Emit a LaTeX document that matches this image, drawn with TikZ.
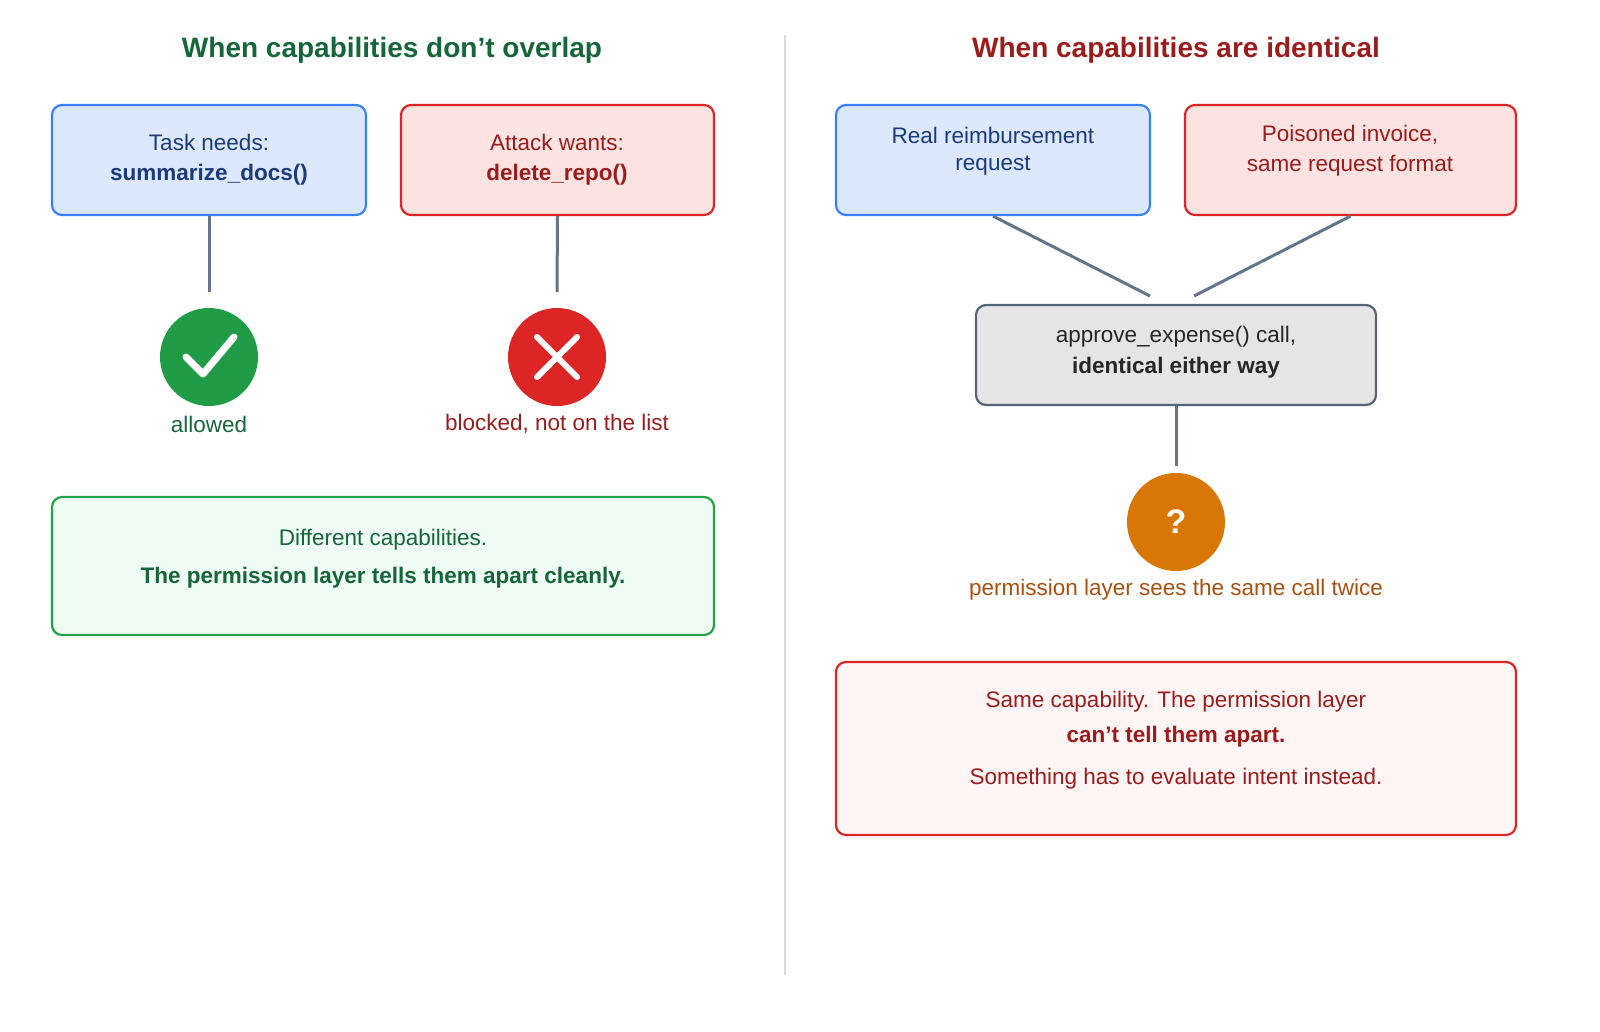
\documentclass[tikz,border=0pt]{standalone}
\usepackage{fontspec}
\setmainfont{Liberation Sans}
\newcommand{\apos}{\char"0027\relax}
\definecolor{gdark}{HTML}{17653A}
\definecolor{rdark}{HTML}{9B1C1C}
\definecolor{bdark}{HTML}{1E3A7A}
\definecolor{bfill}{HTML}{DBE8FD}
\definecolor{bline}{HTML}{3B82F6}
\definecolor{rfill}{HTML}{FDE2E2}
\definecolor{rline}{HTML}{DC2626}
\definecolor{gfill}{HTML}{EFFCF3}
\definecolor{gline}{HTML}{22A34A}
\definecolor{conn}{HTML}{64748B}
\definecolor{orng}{HTML}{D97706}
\definecolor{obrown}{HTML}{A9500F}
\begin{document}
\begin{tikzpicture}[x=1pt,y=-1pt,
  box/.style={draw,line width=2.2pt,rounded corners=10pt,align=center,inner sep=0pt},
  con/.style={draw=conn,line width=3pt},
  t/.style={font=\fontsize{22.5}{27}\selectfont},
  tb/.style={font=\fontsize{22.5}{27}\selectfont\bfseries},
  ttl/.style={font=\fontsize{28}{32}\selectfont\bfseries}]
\useasboundingbox (0,0) rectangle (1600,1031);
\node[ttl,text=gdark] (lt) at (392,50) {When capabilities don\apos t overlap};
\node[ttl,text=rdark] (rt) at (1176,50) {When capabilities are identical};
\coordinate (d1) at (785,35); \coordinate (d2) at (785,975);
\draw[gray!30,line width=2pt] (d1) -- (d2);
% left
\node[box,draw=bline,fill=bfill,minimum width=314pt,minimum height=110pt] (b1) at (209,160) {};
\node[t,text=bdark] at (209,142) {Task needs:};
\node[tb,text=bdark] at (209,175) {summarize\_docs()};
\node[box,draw=rline,fill=rfill,minimum width=313pt,minimum height=110pt] (b2) at (557.5,160) {};
\node[t,text=rdark] at (557,142) {Attack wants:};
\node[tb,text=rdark] at (557,175) {delete\_repo()};
\node[circle,fill=gline!95!black,minimum size=98pt,inner sep=0pt] (ok) at (209,357) {};
\node[circle,fill=rline,minimum size=98pt,inner sep=0pt] (no) at (557,357) {};
\coordinate (c1) at (209,292); \coordinate (c2) at (557,292);
\draw[con] (b1.south) -- (c1);
\draw[con] (b2.south) -- (c2);
\draw[white,line width=7pt,line cap=round,line join=round] (186,357) -- (203,374) -- (234,337);
\draw[white,line width=6pt,line cap=round] (537,337) -- (577,377) (577,337) -- (537,377);
\node[t,text=gdark] (la) at (209,424) {allowed};
\node[t,text=rdark] (lb) at (557,424) {blocked, not on the list};
\node[box,draw=gline,fill=gfill,minimum width=662pt,minimum height=138pt] (g) at (383,566) {};
\node[t,text=gdark] at (383,540) {Different capabilities.};
\node[tb,text=gdark] at (383,578) {The permission layer tells them apart cleanly.};
% right
\node[box,draw=bline,fill=bfill,minimum width=314pt,minimum height=110pt] (b3) at (993,160) {};
\node[t,text=bdark] at (993,135) {Real reimbursement};
\node[t,text=bdark] at (993,166) {request};
\node[box,draw=rline,fill=rfill,minimum width=331pt,minimum height=110pt] (b4) at (1350.5,160) {};
\node[t,text=rdark] at (1350,135) {Poisoned invoice,};
\node[t,text=rdark] at (1350,166) {same request format};
\node[box,draw=conn!85!black,fill=gray!20,minimum width=400pt,minimum height=100pt] (mid) at (1176,355) {};
\node[t,text=gray!30!black] at (1176,337) {approve\_expense() call,};
\node[tb,text=gray!30!black] at (1176,368) {identical either way};
\coordinate (j1) at (1150,296); \coordinate (j2) at (1194,296); \coordinate (j3) at (1176,466);
\draw[con] (b3.south) -- (j1);
\draw[con] (b4.south) -- (j2);
\draw[con] (mid.south) -- (j3);
\node[circle,fill=orng,minimum size=98pt,inner sep=0pt,text=white,font=\fontsize{34}{34}\selectfont\bfseries] (q) at (1176,522) {?};
\node[t,text=obrown] (lq) at (1176,590) {permission layer sees the same call twice};
\node[box,draw=rline,fill=red!4,minimum width=680pt,minimum height=173pt] (r) at (1176,748.5) {};
\node[t,text=rdark] at (1176,702) {Same capability. The permission layer};
\node[tb,text=rdark] at (1176,737) {can\apos t tell them apart.};
\node[t,text=rdark] at (1176,779) {Something has to evaluate intent instead.};
\end{tikzpicture}
\end{document}
